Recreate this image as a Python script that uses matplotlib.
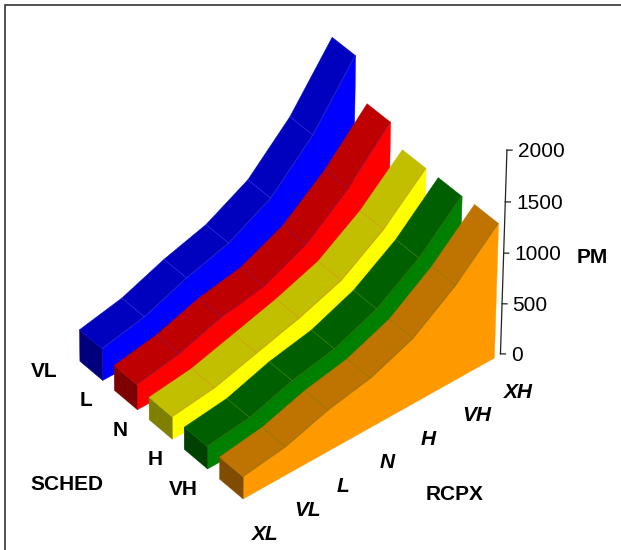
import matplotlib
matplotlib.use('Agg')
import matplotlib.pyplot as plt
from matplotlib.patches import Rectangle
from mpl_toolkits.mplot3d import proj3d
from mpl_toolkits.mplot3d.art3d import Poly3DCollection

plt.rcParams['font.family'] = ['Liberation Sans', 'DejaVu Sans']

rcpx = ['XL', 'VL', 'L', 'N', 'H', 'VH', 'XH']
sched = ['VL', 'L', 'N', 'H', 'VH']
pm_ticks = [0, 500, 1000, 1500, 2000]

pm_vl = [314, 401, 559, 679, 899, 1298, 1856]
pm_l = [248, 323, 459, 538, 727, 1054, 1482]
pm_n = [223, 277, 392, 508, 655, 931, 1308]
pm_h = [220, 272, 405, 489, 654, 929, 1313]
pm_vh = [220, 280, 410, 493, 656, 948, 1330]
pm = [pm_vl, pm_l, pm_n, pm_h, pm_vh]

side_colors = ['#0000ff', '#ff0000', '#ffff00', '#008000', '#ff9900']
top_colors = ['#0000bf', '#bf0000', '#c2bf00', '#006000', '#bf7300']
front_colors = ['#00007f', '#7f0000', '#7f7f00', '#004000', '#7f4c00']
knot_colors = ['#5a5aff', '#6a20a0', '#e08020', '#70a000', '#708000']

WIDTH = 0.662  # ribbon width, in SCHED steps

fig = plt.figure(figsize=(6.21, 5.5), dpi=100)
fig.add_artist(Rectangle((5 / 621, -0.02), 1.02, 1 - 5 / 550 + 0.02, transform=fig.transFigure,
                         fill=False, edgecolor='#333333', linewidth=1.2))

ax = fig.add_axes([38.1 / 621, 42.2 / 550, 485.8 / 621, 485.8 / 550], projection='3d', computed_zorder=False)
ax.set_proj_type('persp', focal_length=3.108)
ax.view_init(elev=41.785, azim=-129.8, roll=-0.468)
ax.set_box_aspect((327, 259.7, 272.3))
ax.set_xlim(0, 6)
ax.set_ylim(4 + WIDTH, 0)
ax.set_zlim(0, 2000)
ax.set_axis_off()
ax.patch.set_alpha(0)


def label(x, y, z, s, **kw):
    # text2D at the projected point, so the label stays an ordinary 2D text
    px, py, _ = proj3d.proj_transform(x, y, z, ax.get_proj())
    ax.text2D(px, py, s, transform=ax.transData, va='center', fontsize=15, clip_on=False, **kw)


for j, vals in enumerate(pm):
    y0, y1 = j, j + WIDTH
    n = len(vals)
    top = [(i, y0, vals[i]) for i in range(n)] + [(i, y1, vals[i]) for i in range(n - 1, -1, -1)]
    side = [(i, y1, vals[i]) for i in range(n)] + [(n - 1, y1, 0), (0, y1, 0)]
    front = [(0, y0, 0), (0, y1, 0), (0, y1, vals[0]), (0, y0, vals[0])]
    for poly, col in ((side, side_colors[j]), (front, front_colors[j]), (top, top_colors[j])):
        pc = Poly3DCollection([poly], facecolors=col, edgecolors=col, linewidths=0.3, zorder=10 + j)
        pc.set_clip_on(False)
        ax.add_collection3d(pc)
    for i in range(1, n - 1):
        ax.plot([i, i], [y0, y1], [vals[i], vals[i]], color=knot_colors[j], lw=0.4, alpha=0.7, zorder=10 + j, clip_on=False)
    ax.plot(range(n), [y1] * n, vals, color=knot_colors[j], lw=0.35, alpha=0.6, zorder=10 + j, clip_on=False)

# PM axis
axis_x, axis_y = 6.16, 4 + WIDTH
ax.plot([axis_x, axis_x], [axis_y, axis_y], [0, 2000], color='#222222', lw=0.9, zorder=30, clip_on=False)
for t in pm_ticks:
    ax.plot([axis_x, axis_x + 0.07], [axis_y, axis_y + 0.059], [t, t], color='#222222', lw=0.9, zorder=30, clip_on=False)
    label(axis_x + 0.15, axis_y + 0.12, t - 15, str(t), ha='left')

for i, name in enumerate(rcpx):
    label(i - 0.47, 4 + WIDTH + 0.82, 0, name, fontweight='bold', style='italic', ha='left')
for j, name in enumerate(sched):
    label(-0.49, j + WIDTH / 2 - 0.35, 0, name, fontweight='bold', ha='right')

label(-2.24, 2.4, 0, 'SCHED', fontweight='bold', ha='center')
label(3.05, 6.96, 0, 'RCPX', fontweight='bold', ha='center')
label(7.34, 5.74, 1000, 'PM', fontweight='bold', ha='center')

fig.savefig('out.png', dpi=100)
